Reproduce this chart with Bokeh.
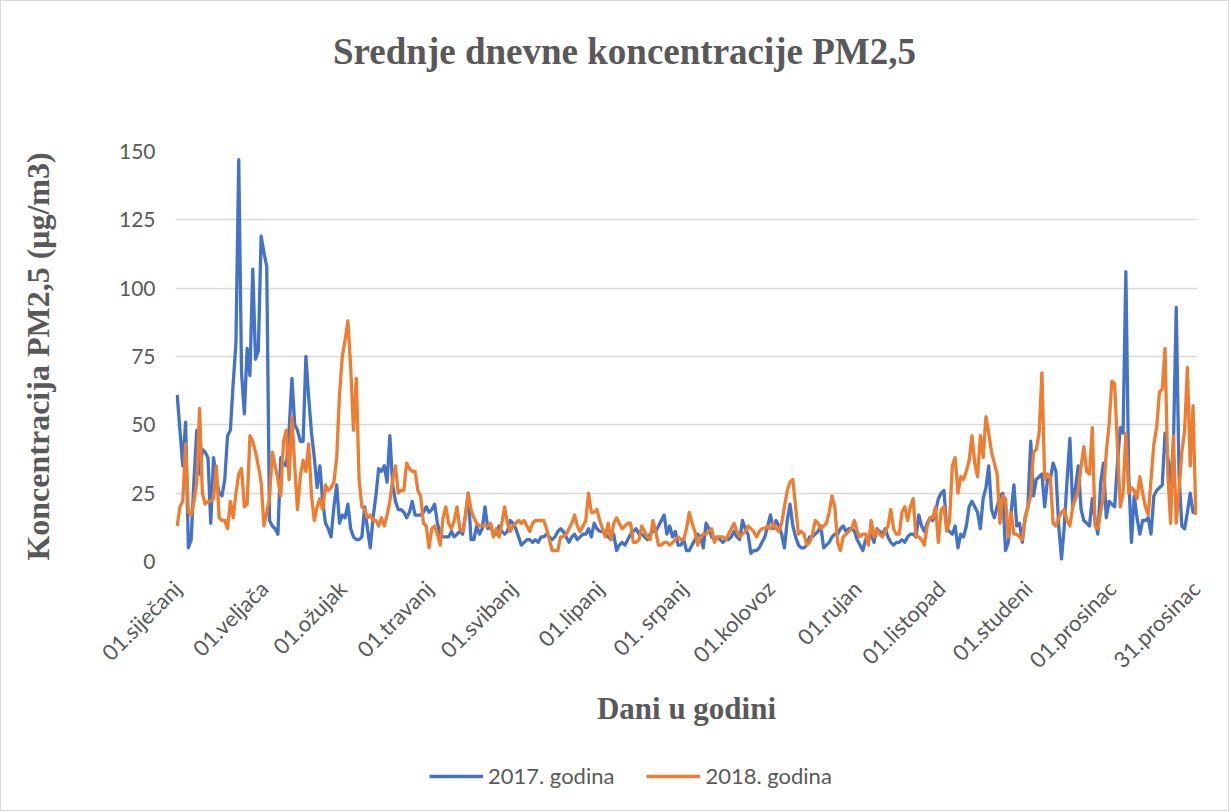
import math
from bokeh.plotting import figure
from bokeh.models import Range1d, FixedTicker, Legend, LegendItem, Div
from bokeh.layouts import column
from bokeh.embed import file_html
from bokeh.resources import INLINE

days = list(range(1, 366))

pm25_2017 = [
    61, 48, 35, 51, 5, 8, 30, 48, 32, 41,
    40, 38, 14, 38, 30, 25, 24, 30, 46, 48,
    65, 80, 147, 69, 54, 78, 68, 107, 74, 77,
    119, 113, 108, 15, 13, 12, 10, 38, 36, 35,
    48, 67, 50, 48, 44, 44, 75, 60, 47, 38,
    27, 35, 22, 14, 12, 9, 20, 28, 14, 17,
    16, 21, 12, 9, 8, 8, 9, 20, 12, 5,
    16, 24, 34, 33, 35, 29, 46, 28, 22, 19,
    19, 18, 16, 18, 22, 17, 17, 17, 18, 20,
    18, 19, 21, 14, 10, 9, 9, 9, 11, 9,
    10, 11, 10, 17, 25, 8, 8, 13, 10, 12,
    20, 12, 13, 10, 10, 13, 11, 10, 11, 15,
    14, 12, 9, 6, 7, 8, 8, 7, 8, 7,
    9, 9, 10, 9, 8, 9, 11, 12, 11, 9,
    7, 9, 10, 8, 9, 10, 10, 12, 9, 14,
    12, 11, 11, 10, 9, 8, 10, 4, 6, 7,
    6, 8, 10, 11, 12, 10, 10, 9, 8, 10,
    11, 11, 13, 15, 17, 10, 13, 9, 11, 6,
    6, 8, 4, 4, 6, 8, 10, 9, 5, 14,
    12, 9, 8, 9, 8, 7, 8, 8, 9, 11,
    9, 8, 15, 12, 10, 3, 4, 4, 5, 7,
    9, 13, 17, 12, 15, 13, 10, 5, 15, 21,
    13, 9, 6, 5, 5, 6, 9, 9, 10, 11,
    13, 5, 6, 7, 9, 10, 10, 12, 13, 11,
    12, 12, 11, 8, 6, 4, 8, 9, 10, 7,
    12, 11, 10, 12, 9, 7, 6, 7, 7, 8,
    7, 9, 10, 10, 9, 17, 13, 11, 14, 16,
    15, 18, 23, 25, 26, 12, 11, 10, 13, 5,
    10, 9, 13, 20, 22, 20, 18, 12, 23, 27,
    35, 19, 16, 20, 24, 25, 4, 7, 18, 28,
    13, 14, 7, 16, 20, 44, 24, 30, 31, 32,
    20, 30, 30, 36, 33, 13, 1, 13, 30, 45,
    20, 27, 35, 19, 15, 14, 13, 23, 15, 10,
    29, 36, 16, 22, 21, 20, 36, 49, 47, 106,
    32, 7, 24, 16, 10, 15, 15, 16, 10, 24,
    26, 27, 28, 47, 38, 29, 43, 93, 32, 13,
    12, 18, 25, 18, 18,
]

pm25_2018 = [
    13, 20, 22, 43, 18, 17, 22, 29, 56, 25,
    21, 22, 22, 23, 35, 16, 15, 15, 12, 22,
    16, 25, 32, 34, 20, 21, 46, 44, 40, 35,
    29, 13, 18, 23, 40, 35, 30, 24, 44, 48,
    30, 53, 35, 19, 31, 37, 33, 43, 24, 15,
    20, 23, 19, 28, 26, 27, 29, 38, 61, 75,
    81, 88, 71, 48, 67, 30, 20, 19, 16, 17,
    15, 15, 13, 16, 13, 17, 22, 30, 35, 25,
    26, 26, 36, 34, 33, 33, 26, 24, 14, 13,
    5, 12, 13, 10, 6, 16, 20, 14, 12, 15,
    20, 12, 11, 16, 25, 19, 16, 14, 13, 13,
    13, 13, 14, 9, 12, 9, 14, 20, 14, 11,
    13, 14, 15, 14, 15, 13, 11, 14, 15, 15,
    15, 15, 12, 8, 4, 4, 4, 9, 9, 10,
    12, 14, 17, 13, 11, 13, 15, 25, 18, 18,
    19, 15, 12, 9, 14, 8, 14, 16, 14, 12,
    13, 14, 14, 7, 7, 8, 13, 11, 9, 8,
    15, 11, 6, 6, 7, 7, 6, 7, 8, 9,
    8, 8, 12, 18, 14, 11, 6, 9, 10, 10,
    11, 12, 7, 9, 9, 9, 8, 10, 12, 14,
    11, 9, 10, 11, 13, 12, 11, 9, 11, 12,
    12, 13, 12, 14, 12, 11, 14, 20, 26, 29,
    30, 20, 10, 11, 10, 6, 7, 10, 15, 14,
    12, 13, 14, 18, 24, 20, 7, 4, 9, 10,
    11, 12, 15, 11, 9, 10, 10, 6, 15, 9,
    12, 10, 9, 11, 13, 19, 12, 10, 10, 18,
    20, 15, 20, 23, 9, 9, 8, 6, 13, 16,
    16, 20, 7, 19, 20, 11, 15, 35, 38, 25,
    31, 30, 33, 37, 46, 36, 31, 46, 38, 53,
    47, 40, 36, 32, 14, 24, 23, 9, 18, 10,
    10, 9, 8, 16, 20, 24, 40, 41, 47, 69,
    30, 32, 31, 14, 13, 16, 18, 19, 15, 13,
    20, 23, 26, 35, 42, 33, 32, 49, 13, 12,
    18, 24, 40, 50, 66, 65, 42, 20, 25, 47,
    25, 27, 26, 23, 31, 25, 20, 17, 30, 43,
    49, 62, 63, 78, 32, 14, 46, 14, 26, 40,
    48, 71, 35, 57, 17,
]

tick_days = [1, 32, 60, 91, 121, 152, 182, 213, 244, 274, 305, 335, 365]
tick_labels = ["01.siječanj", "01.veljača", "01.ožujak", "01.travanj", "01.svibanj",
               "01.lipanj", "01. srpanj", "01.kolovoz", "01.rujan", "01.listopad",
               "01.studeni", "01.prosinac", "31.prosinac"]
y_ticks = [0, 25, 50, 75, 100, 125, 150]
series_names = ["2017. godina", "2018. godina"]
title_text = "Srednje dnevne koncentracije PM2,5"
y_title = "Koncentracija PM2,5 (μg/m3)"
x_title = "Dani u godini"

GRAY = "#595959"
BLUE = "#4472C4"
ORANGE = "#ED7D31"
SERIF = "Liberation Serif"
SANS = "Lato"
W = 1227
LW = 3.3

# ---- title ----
title_div = Div(
    text=('<div style="margin-left:332px; margin-top:32px; white-space:nowrap; '
          'font-family:\'Liberation Serif\'; font-weight:bold; font-size:37px; '
          'line-height:1; color:%s;">%s</div>' % (GRAY, title_text)),
    width=W, height=100, margin=0)

# ---- main chart ----
p = figure(width=W, height=650, output_backend="svg", toolbar_location=None,
           x_range=Range1d(0.4, 365.6), y_range=Range1d(0, 150),
           min_border_left=174, min_border_right=31, min_border_top=50,
           min_border_bottom=190)
p.outline_line_color = None
p.background_fill_color = "white"
p.border_fill_color = "white"

p.xgrid.grid_line_color = None
p.ygrid.grid_line_color = "#d9d9d9"
p.ygrid.grid_line_width = 1.3
p.yaxis.ticker = FixedTicker(ticks=y_ticks)
p.xaxis.ticker = FixedTicker(ticks=tick_days)
p.xaxis.major_label_overrides = {d: lab for d, lab in zip(tick_days, tick_labels)}
p.xaxis.major_label_orientation = math.pi / 4

for ax in (p.xaxis, p.yaxis):
    ax.axis_line_color = None
    ax.major_tick_line_color = None
    ax.minor_tick_line_color = None
    ax.major_label_text_font = SANS
    ax.major_label_text_color = GRAY
    ax.axis_label_text_font = SERIF
    ax.axis_label_text_font_style = "bold"
    ax.axis_label_text_color = GRAY
p.yaxis.major_label_text_font_size = "21px"
p.xaxis.major_label_text_font_size = "22px"
p.yaxis.major_label_standoff = 14
p.xaxis.major_label_standoff = 17
p.yaxis.axis_label = y_title
p.yaxis.axis_label_text_font_size = "32px"
p.yaxis.axis_label_standoff = 60
p.xaxis.axis_label = x_title
p.xaxis.axis_label_text_font_size = "31px"
p.xaxis.axis_label_standoff = 5

p.line(days, pm25_2017, line_color=BLUE, line_width=LW, line_join="round")
p.line(days, pm25_2018, line_color=ORANGE, line_width=LW, line_join="round")

# ---- legend strip (series drawn out of view; only the legend shows) ----
q = figure(width=W, height=59, output_backend="svg", toolbar_location=None,
           x_range=Range1d(-2, -1), y_range=Range1d(-2, -1), min_border=0,
           x_axis_type=None, y_axis_type=None)
q.outline_line_color = None
q.background_fill_color = "white"
q.border_fill_color = "white"
k1 = q.line(days, pm25_2017, line_color=BLUE, line_width=LW)
k2 = q.line(days, pm25_2018, line_color=ORANGE, line_width=LW)
legend = Legend(items=[LegendItem(label=series_names[0], renderers=[k1]),
                       LegendItem(label=series_names[1], renderers=[k2])],
                orientation="horizontal", location=(254, 21),
                glyph_width=54, glyph_height=22, label_standoff=5, spacing=32,
                padding=0, margin=0, border_line_color=None,
                background_fill_alpha=0,
                label_text_font=SANS, label_text_font_size="22px",
                label_text_color=GRAY)
q.add_layout(legend)

layout = column(title_div, p, q, spacing=0,
                styles={"border": "1px solid #d9d9d9"})

open("out.html", "w").write(file_html(layout, INLINE))
